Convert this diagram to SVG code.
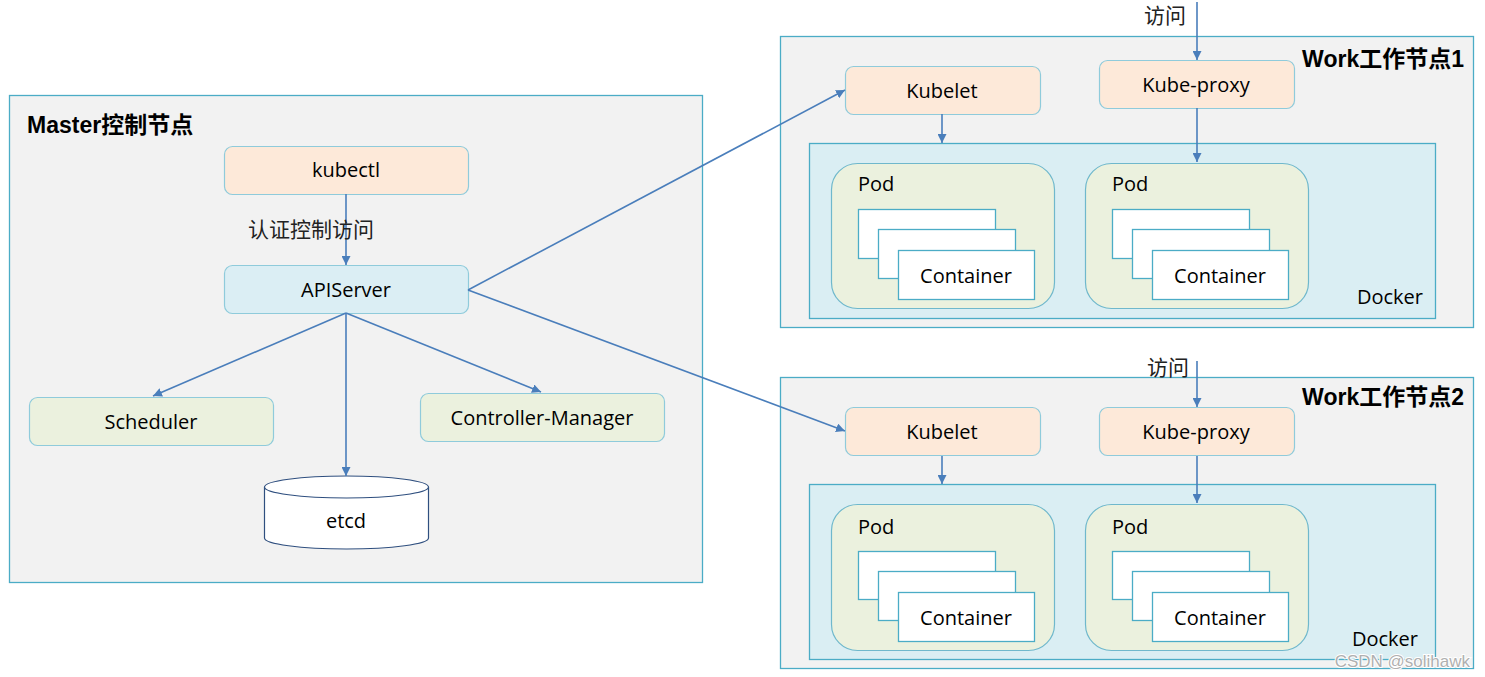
<svg xmlns="http://www.w3.org/2000/svg" width="1485" height="677" viewBox="0 0 1485 677">
<defs>
<marker id="ah" viewBox="0 0 10 10" refX="10" refY="5" markerWidth="9" markerHeight="9" markerUnits="userSpaceOnUse" orient="auto">
<path d="M0,0 L10,5 L0,10 z" fill="#4a7ebb"/>
</marker>
<style>
.frame{fill:#f2f2f2;stroke:#4bacc6;stroke-width:1.3}
.docker{fill:#daeef3;stroke:#4bacc6;stroke-width:1.3}
.pod{fill:#ebf1de;stroke:#6fb8cc;stroke-width:1.2}
.orange{fill:#fde9d9;stroke:#8fcbdb;stroke-width:1.2}
.blue{fill:#dbeef4;stroke:#8fcbdb;stroke-width:1.2}
.green{fill:#ebf1de;stroke:#8fcbdb;stroke-width:1.2}
.ctr{fill:#ffffff;stroke:#4bacc6;stroke-width:1.3}
.t{font-family:"Open Sans","Liberation Sans","Noto Sans CJK SC",sans-serif;font-size:20px;fill:#000}
.c{text-anchor:middle}
.title{font-family:"Liberation Sans","Noto Sans CJK SC",sans-serif;font-size:23px;font-weight:bold;fill:#000}
.cn{font-family:"Noto Sans CJK SC",sans-serif;font-size:21px;fill:#222}
.conn{stroke:#4a7ebb;stroke-width:1.6;fill:none;marker-end:url(#ah)}
</style>
</defs>
<rect width="1485" height="677" fill="#ffffff"/>

<g id="master">
<rect class="frame" x="9.5" y="95.5" width="693" height="487"/>
<text class="title" x="27" y="133">Master控制节点</text>
</g>
<g id="kubectl">
<rect class="orange" x="224.5" y="146.5" width="244" height="48" rx="8"/>
<text class="t c" x="346" y="177">kubectl</text>
</g>
<g id="apiserver">
<rect class="blue" x="224.5" y="265.5" width="244" height="48" rx="8"/>
<text class="t c" x="346" y="297">APIServer</text>
</g>
<g id="scheduler">
<rect class="green" x="29.5" y="397.5" width="244" height="48" rx="8"/>
<text class="t c" x="151" y="429">Scheduler</text>
</g>
<g id="controller-manager">
<rect class="green" x="420.5" y="393.5" width="244" height="48" rx="8"/>
<text class="t c" x="542" y="425">Controller-Manager</text>
</g>
<g id="etcd">
<path d="M264.5,487 L264.5,538 A82,11 0 0 0 428.5,538 L428.5,487" fill="#ffffff" stroke="#2f4f7f" stroke-width="1.2"/>
<ellipse cx="346.5" cy="487" rx="82" ry="11" fill="#ffffff" stroke="#2f4f7f" stroke-width="1.2"/>
<text class="t c" x="346" y="528">etcd</text>
</g>

<g id="worker1">
<rect class="frame" x="780.5" y="36.5" width="693" height="291"/>
<text class="title" x="1464" y="67" text-anchor="end">Work工作节点1</text>
</g>
<g id="kubelet1">
<rect class="orange" x="845.5" y="66.5" width="195" height="48" rx="8"/>
<text class="t c" x="942" y="98">Kubelet</text>
</g>
<g id="kubeproxy1">
<rect class="orange" x="1099.5" y="60.5" width="195" height="48" rx="8"/>
<text class="t c" x="1196" y="92">Kube-proxy</text>
</g>
<g id="docker1">
<rect class="docker" x="809.5" y="143.5" width="626" height="175"/>
<text class="t" x="1423" y="304" text-anchor="end">Docker</text>
</g>
<g id="pod1a">
<rect class="pod" x="831.5" y="163.5" width="223" height="145" rx="26"/>
<text class="t" x="858" y="191">Pod</text>
<rect class="ctr" x="858.5" y="209.5" width="137" height="49"/>
<rect class="ctr" x="878.5" y="229.5" width="137" height="49"/>
<rect class="ctr" x="898.5" y="250.5" width="136" height="49"/>
<text class="t c" x="966" y="283">Container</text>
</g>
<g id="pod1b">
<rect class="pod" x="1085.5" y="163.5" width="223" height="145" rx="26"/>
<text class="t" x="1112" y="191">Pod</text>
<rect class="ctr" x="1112.5" y="209.5" width="137" height="49"/>
<rect class="ctr" x="1132.5" y="229.5" width="137" height="49"/>
<rect class="ctr" x="1152.5" y="250.5" width="136" height="49"/>
<text class="t c" x="1220" y="283">Container</text>
</g>

<g id="worker2">
<rect class="frame" x="780.5" y="377.5" width="693" height="291"/>
<text class="title" x="1464" y="405" text-anchor="end">Work工作节点2</text>
</g>
<g id="kubelet2">
<rect class="orange" x="845.5" y="407.5" width="195" height="48" rx="8"/>
<text class="t c" x="942" y="439">Kubelet</text>
</g>
<g id="kubeproxy2">
<rect class="orange" x="1099.5" y="407.5" width="195" height="48" rx="8"/>
<text class="t c" x="1196" y="439">Kube-proxy</text>
</g>
<g id="docker2">
<rect class="docker" x="809.5" y="484.5" width="626" height="175"/>
<text class="t" x="1418" y="646" text-anchor="end">Docker</text>
</g>
<g id="pod2a">
<rect class="pod" x="831.5" y="504.5" width="223" height="146" rx="26"/>
<text class="t" x="858" y="534">Pod</text>
<rect class="ctr" x="858.5" y="551.5" width="137" height="48"/>
<rect class="ctr" x="878.5" y="571.5" width="137" height="49"/>
<rect class="ctr" x="898.5" y="592.5" width="136" height="49"/>
<text class="t c" x="966" y="625">Container</text>
</g>
<g id="pod2b">
<rect class="pod" x="1085.5" y="504.5" width="223" height="146" rx="26"/>
<text class="t" x="1112" y="534">Pod</text>
<rect class="ctr" x="1112.5" y="551.5" width="137" height="48"/>
<rect class="ctr" x="1132.5" y="571.5" width="137" height="49"/>
<rect class="ctr" x="1152.5" y="592.5" width="136" height="49"/>
<text class="t c" x="1220" y="625">Container</text>
</g>

<g id="connectors">
<line class="conn" x1="346" y1="194" x2="346" y2="265"/>
<text class="cn" x="248" y="237">认证控制访问</text>
<line class="conn" x1="346" y1="313" x2="153" y2="396"/>
<line class="conn" x1="346" y1="313" x2="346" y2="476"/>
<line class="conn" x1="346" y1="313" x2="541" y2="392"/>
<line class="conn" x1="468" y1="290" x2="845" y2="90"/>
<line class="conn" x1="468" y1="290" x2="845" y2="431"/>
<line class="conn" x1="942" y1="114" x2="942" y2="143"/>
<line class="conn" x1="1197" y1="108" x2="1197" y2="162"/>
<line class="conn" x1="1197" y1="2" x2="1197" y2="60"/>
<text class="cn" x="1144" y="23">访问</text>
<line class="conn" x1="942" y1="456" x2="942" y2="484"/>
<line class="conn" x1="1197" y1="456" x2="1197" y2="503"/>
<line class="conn" x1="1197" y1="361" x2="1197" y2="407"/>
<text class="cn" x="1147" y="375">访问</text>
</g>
<text x="1470" y="667" text-anchor="end" font-family="Liberation Sans,sans-serif" font-size="17" fill="#b0b0b0" stroke="#ffffff" stroke-width="2" paint-order="stroke">CSDN @solihawk</text>
</svg>
